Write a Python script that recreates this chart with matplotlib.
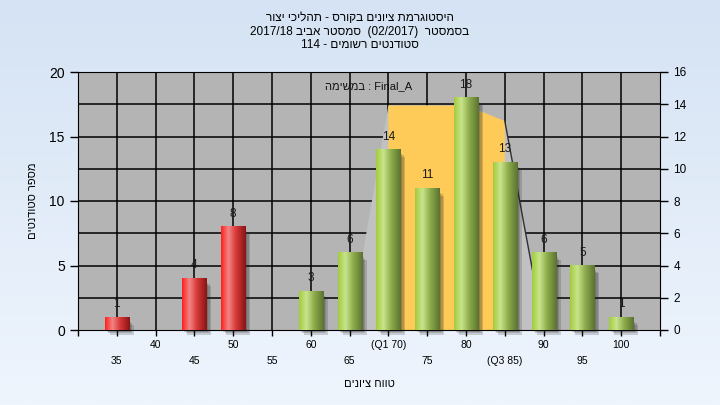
import re
import numpy as np
import matplotlib.pyplot as plt
from matplotlib.patches import Polygon, Rectangle
from matplotlib.colors import LinearSegmentedColormap

plt.rcParams['font.family'] = ['Liberation Sans', 'DejaVu Sans']

# -- datos --
scores = [35, 40, 45, 50, 55, 60, 65, 70, 75, 80, 85, 90, 95, 100]
counts = [1, 0, 4, 8, 0, 3, 6, 14, 11, 18, 13, 6, 5, 1]
tick_labels = ['35', '40', '45', '50', '55', '60', '65', '(Q1 70)', '75', '80',
               '(Q3 85)', '90', '95', '100']
pass_score = 55

# banda de cuartiles (escala izquierda)
band_x = [65, 70, 80, 85, 90]
band_y = [0, 17.4, 17.4, 16.2, 0]
q1, q3 = 70, 85

title_lines = ['היסטוגרמת ציונים בקורס - תהליכי יצור',
               'בסמסטר  (02/2017)  סמסטר אביב 2017/18',
               'סטודנטים רשומים - 114']
task_word = 'במשימה'
task_name = 'Final_A'
xlabel = 'טווח ציונים'
ylabel = 'מספר סטודנטים'


def rtl(s):
    # orden visual de una linea hebrea (matplotlib no hace bidi)
    toks = re.findall(r'[0-9A-Za-z_/.]+|[^0-9A-Za-z_/.]+', s)
    out = []
    for t in reversed(toks):
        if re.match(r'[0-9A-Za-z_/.]', t):
            out.append(t)
        else:
            t = t[::-1]
            t = t.replace('(', '\0').replace(')', '(').replace('\0', ')')
            out.append(t)
    return ''.join(out)


def pos(s):
    return (s - 30) / 5


fig = plt.figure(figsize=(7.2, 4.05), dpi=100)

# fondo degradado
bg = fig.add_axes([0, 0, 1, 1], zorder=-10)
grad = np.linspace(0, 1, 256).reshape(-1, 1)
bg.imshow(grad, aspect='auto', extent=[0, 1, 0, 1],
          cmap=LinearSegmentedColormap.from_list('bg', ['#d5e3f4', '#eff5fd']))
bg.axis('off')

ax = fig.add_axes([78/720, 75/405, 582/720, 258/405])
ax.set_facecolor('#b4b4b4')

# rejilla
for y in np.arange(2.5, 20, 2.5):
    ax.axhline(y, color='black', lw=1.1, zorder=1)
for i in range(1, len(scores) + 1):
    ax.axvline(i, color='black', lw=1.1, zorder=1)

# banda gris + amarilla
bx = [pos(s) for s in band_x]
ax.add_patch(Polygon(list(zip(bx, band_y)), closed=True, facecolor='#c1c1c1',
                     edgecolor='none', zorder=2))
yx = [pos(q1)] + bx[1:4] + [pos(q3)]
yy = [0] + band_y[1:4] + [0]
ax.add_patch(Polygon(list(zip(yx, yy)), closed=True, facecolor='#fecb58',
                     edgecolor='none', zorder=2))
ax.plot(bx[3:5], band_y[3:5], color='#303030', lw=1.0, zorder=2)

# barras con degradado tipo cilindro
w = 0.62
cm_red = LinearSegmentedColormap.from_list(
    'r', [(0, '#ff1f1f'), (0.3, '#f28585'), (0.6, '#d83838'), (1, '#8a1414')])
cm_green = LinearSegmentedColormap.from_list(
    'g', [(0, '#a2cc3c'), (0.3, '#c9e48c'), (0.6, '#8fae4c'), (1, '#5a7230')])
hgrad = np.linspace(0, 1, 100).reshape(1, -1)
for s, c in zip(scores, counts):
    if c == 0:
        continue
    x = pos(s)
    for k in range(3):
        off = 0.05 + 0.04 * k
        ax.add_patch(Rectangle((x - w/2 + off, -0.15 - 0.12 * k), w, c - 0.2,
                               facecolor='#202020', alpha=0.18, edgecolor='none',
                               zorder=2.5, clip_on=False))
    cmap = cm_red if s < pass_score else cm_green
    ax.imshow(hgrad, cmap=cmap, aspect='auto', extent=[x - w/2, x + w/2, 0, c],
              zorder=3)
    ax.text(x, c + 1.0, str(c), ha='center', va='center', fontsize=8.5,
            color='#1a1a1a', zorder=4)

ax.text(0.5, 0.946, rtl(task_word) + ' : ' + task_name, transform=ax.transAxes,
        ha='center', va='center', fontsize=8, color='#111111', zorder=4)

ax.set_xlim(0, 15)
ax.set_ylim(0, 20)
ax.set_yticks(np.arange(0, 21, 5))
ax.tick_params(axis='y', labelsize=10, length=6, width=1, direction='out')
ax.set_xticks(range(1, len(scores) + 1))
ax.set_xticklabels([l if i % 2 else '\n' + l for i, l in enumerate(tick_labels)],
                   fontsize=7.5, linespacing=1.8)
ax.set_xticks([0, 15], minor=True)
ax.tick_params(axis='x', which='both', length=4, width=1, pad=3)
for sp in ['left', 'bottom', 'top']:
    ax.spines[sp].set_color('black')
ax.spines['right'].set_visible(False)

ax.set_xlabel(rtl(xlabel), fontsize=8, labelpad=9)
ax.set_ylabel(rtl(ylabel), fontsize=8, rotation=90, va='center', labelpad=12)

ax2 = ax.twinx()
ax2.set_ylim(0, 16)
ax2.set_yticks(np.arange(0, 17, 2))
ax2.tick_params(axis='y', labelsize=8.5, length=6, width=1)
for sp in ['left', 'bottom', 'top']:
    ax2.spines[sp].set_visible(False)
ax2.spines['right'].set_color('black')

fig.text(0.5, 0.97, '\n'.join(rtl(l) for l in title_lines), ha='center',
         va='top', fontsize=8.5, linespacing=1.15)

fig.savefig('out.png', dpi=100)
